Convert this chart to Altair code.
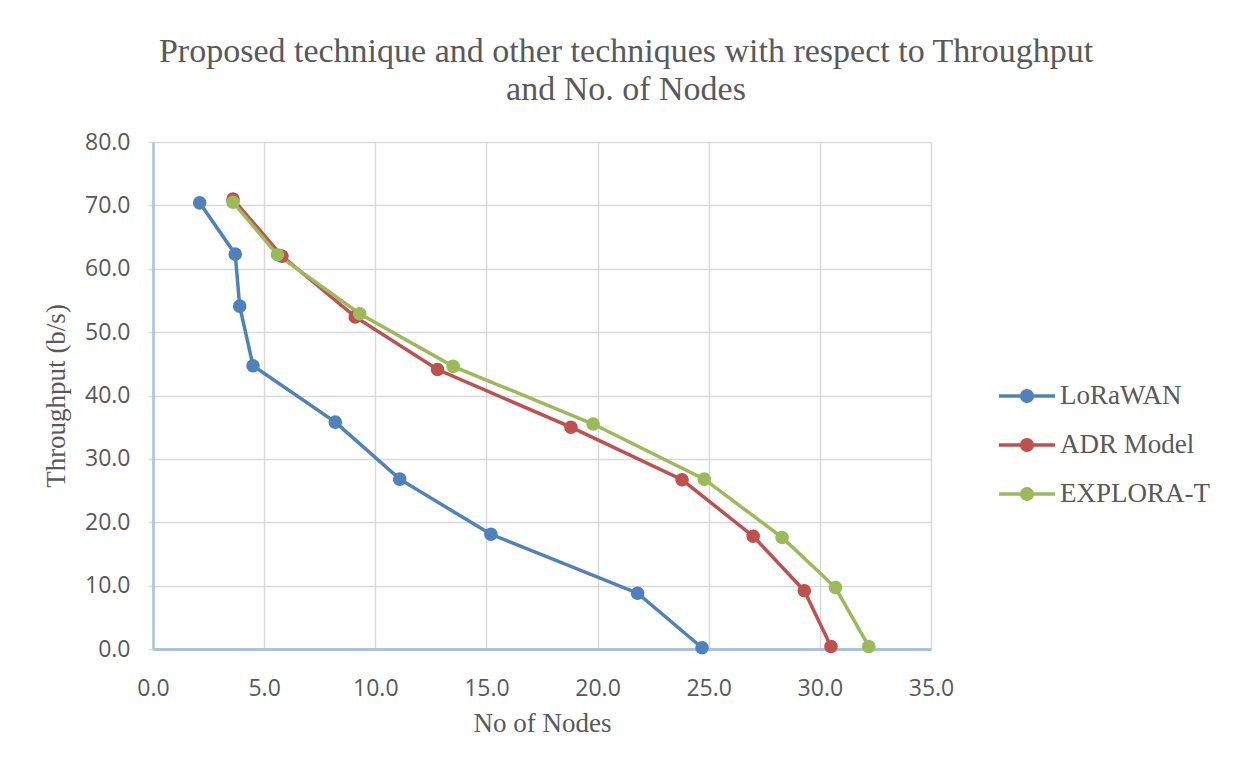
import altair as alt
import pandas as pd

series = ["LoRaWAN", "ADR Model", "EXPLORA-T"]
colors = ["#4F81BD", "#C0504D", "#9BBB59"]

lora_x = [2.1, 3.7, 3.9, 4.5, 8.2, 11.1, 15.2, 21.8, 24.7]
lora_y = [70.4, 62.3, 54.1, 44.7, 35.8, 26.8, 18.1, 8.8, 0.2]
adr_x = [3.6, 5.8, 9.1, 12.8, 18.8, 23.8, 27.0, 29.3, 30.5]
adr_y = [71.0, 62.0, 52.4, 44.1, 35.0, 26.7, 17.8, 9.2, 0.4]
exp_x = [3.6, 5.6, 9.3, 13.5, 19.8, 24.8, 28.3, 30.7, 32.2]
exp_y = [70.5, 62.2, 52.9, 44.6, 35.5, 26.8, 17.6, 9.7, 0.4]

x_ticks = [0, 5, 10, 15, 20, 25, 30, 35]
y_ticks = [0, 10, 20, 30, 40, 50, 60, 70, 80]

rows = []
for name, xs, ys in [(series[0], lora_x, lora_y), (series[1], adr_x, adr_y), (series[2], exp_x, exp_y)]:
    for i, (xv, yv) in enumerate(zip(xs, ys)):
        rows.append({"series": name, "nodes": xv, "throughput": yv, "idx": i})
df = pd.DataFrame(rows)

SERIF = "Liberation Serif"
SANS = "Open Sans"
GRAY = "#595959"
AXIS_BLUE = "#A9C2E2"

legend_path = "M-2,0L2,0M-0.38,0A0.38,0.38 0 1,0 0.38,0A0.38,0.38 0 1,0 -0.38,0Z"

color = alt.Color(
    "series:N",
    scale=alt.Scale(domain=series, range=colors),
    legend=alt.Legend(
        title=None,
        orient="none",
        legendX=858,
        legendY=238,
        symbolType=legend_path,
        symbolSize=784,
        symbolStrokeWidth=3.5,
        symbolOpacity=1,
        labelFont=SERIF,
        labelFontSize=27,
        labelColor=GRAY,
        labelOffset=17,
        rowPadding=20,
        padding=0,
    ),
)

x = alt.X(
    "nodes:Q",
    scale=alt.Scale(domain=[0, 35], nice=False, zero=True),
    axis=alt.Axis(
        values=x_ticks,
        format=".1f",
        title="No of Nodes",
        titleFont=SERIF,
        titleFontSize=27,
        titleFontWeight="normal",
        titleColor=GRAY,
        titlePadding=10,
        labelFont=SANS,
        labelFontSize=23,
        labelColor=GRAY,
        labelPadding=28,
        labelFlush=False,
        domainColor=AXIS_BLUE,
        domainWidth=3,
        ticks=False,
        gridColor="#D9D9D9",
        gridWidth=1.5,
    ),
)

y = alt.Y(
    "throughput:Q",
    scale=alt.Scale(domain=[0, 80], nice=False),
    axis=alt.Axis(
        values=y_ticks,
        format=".1f",
        title="Throughput (b/s)",
        titleFont=SERIF,
        titleFontSize=27,
        titleFontWeight="normal",
        titleColor=GRAY,
        titlePadding=14,
        labelFont=SANS,
        labelFontSize=23,
        labelColor=GRAY,
        labelPadding=18,
        labelFlush=False,
        domainColor=AXIS_BLUE,
        domainWidth=2.5,
        tickColor="#D9D9D9",
        tickSize=5,
        tickWidth=1.5,
        gridColor="#D9D9D9",
        gridWidth=1.5,
    ),
)

base = alt.Chart(df).encode(x=x, y=y, color=color, order="idx:Q")
lines = base.mark_line(strokeWidth=3.5)
pts = base.mark_circle(size=185, opacity=1)

chart = (
    alt.layer(lines, pts)
    .properties(
        width=778,
        height=507,
        autosize="none",
        padding={"left": 145, "top": 134, "right": 300, "bottom": 100},
        title=alt.Title(
            text=["Proposed technique and other techniques with respect to Throughput", "and No. of Nodes"],
            font=SERIF,
            fontSize=34,
            fontWeight="normal",
            color=GRAY,
            anchor="middle",
            frame="group",
            dx=84,
            lineHeight=38,
            offset=24,
        ),
    )
    .configure_view(stroke=None)
)

chart.save("out.html", embed_options={"renderer": "svg", "actions": False})
